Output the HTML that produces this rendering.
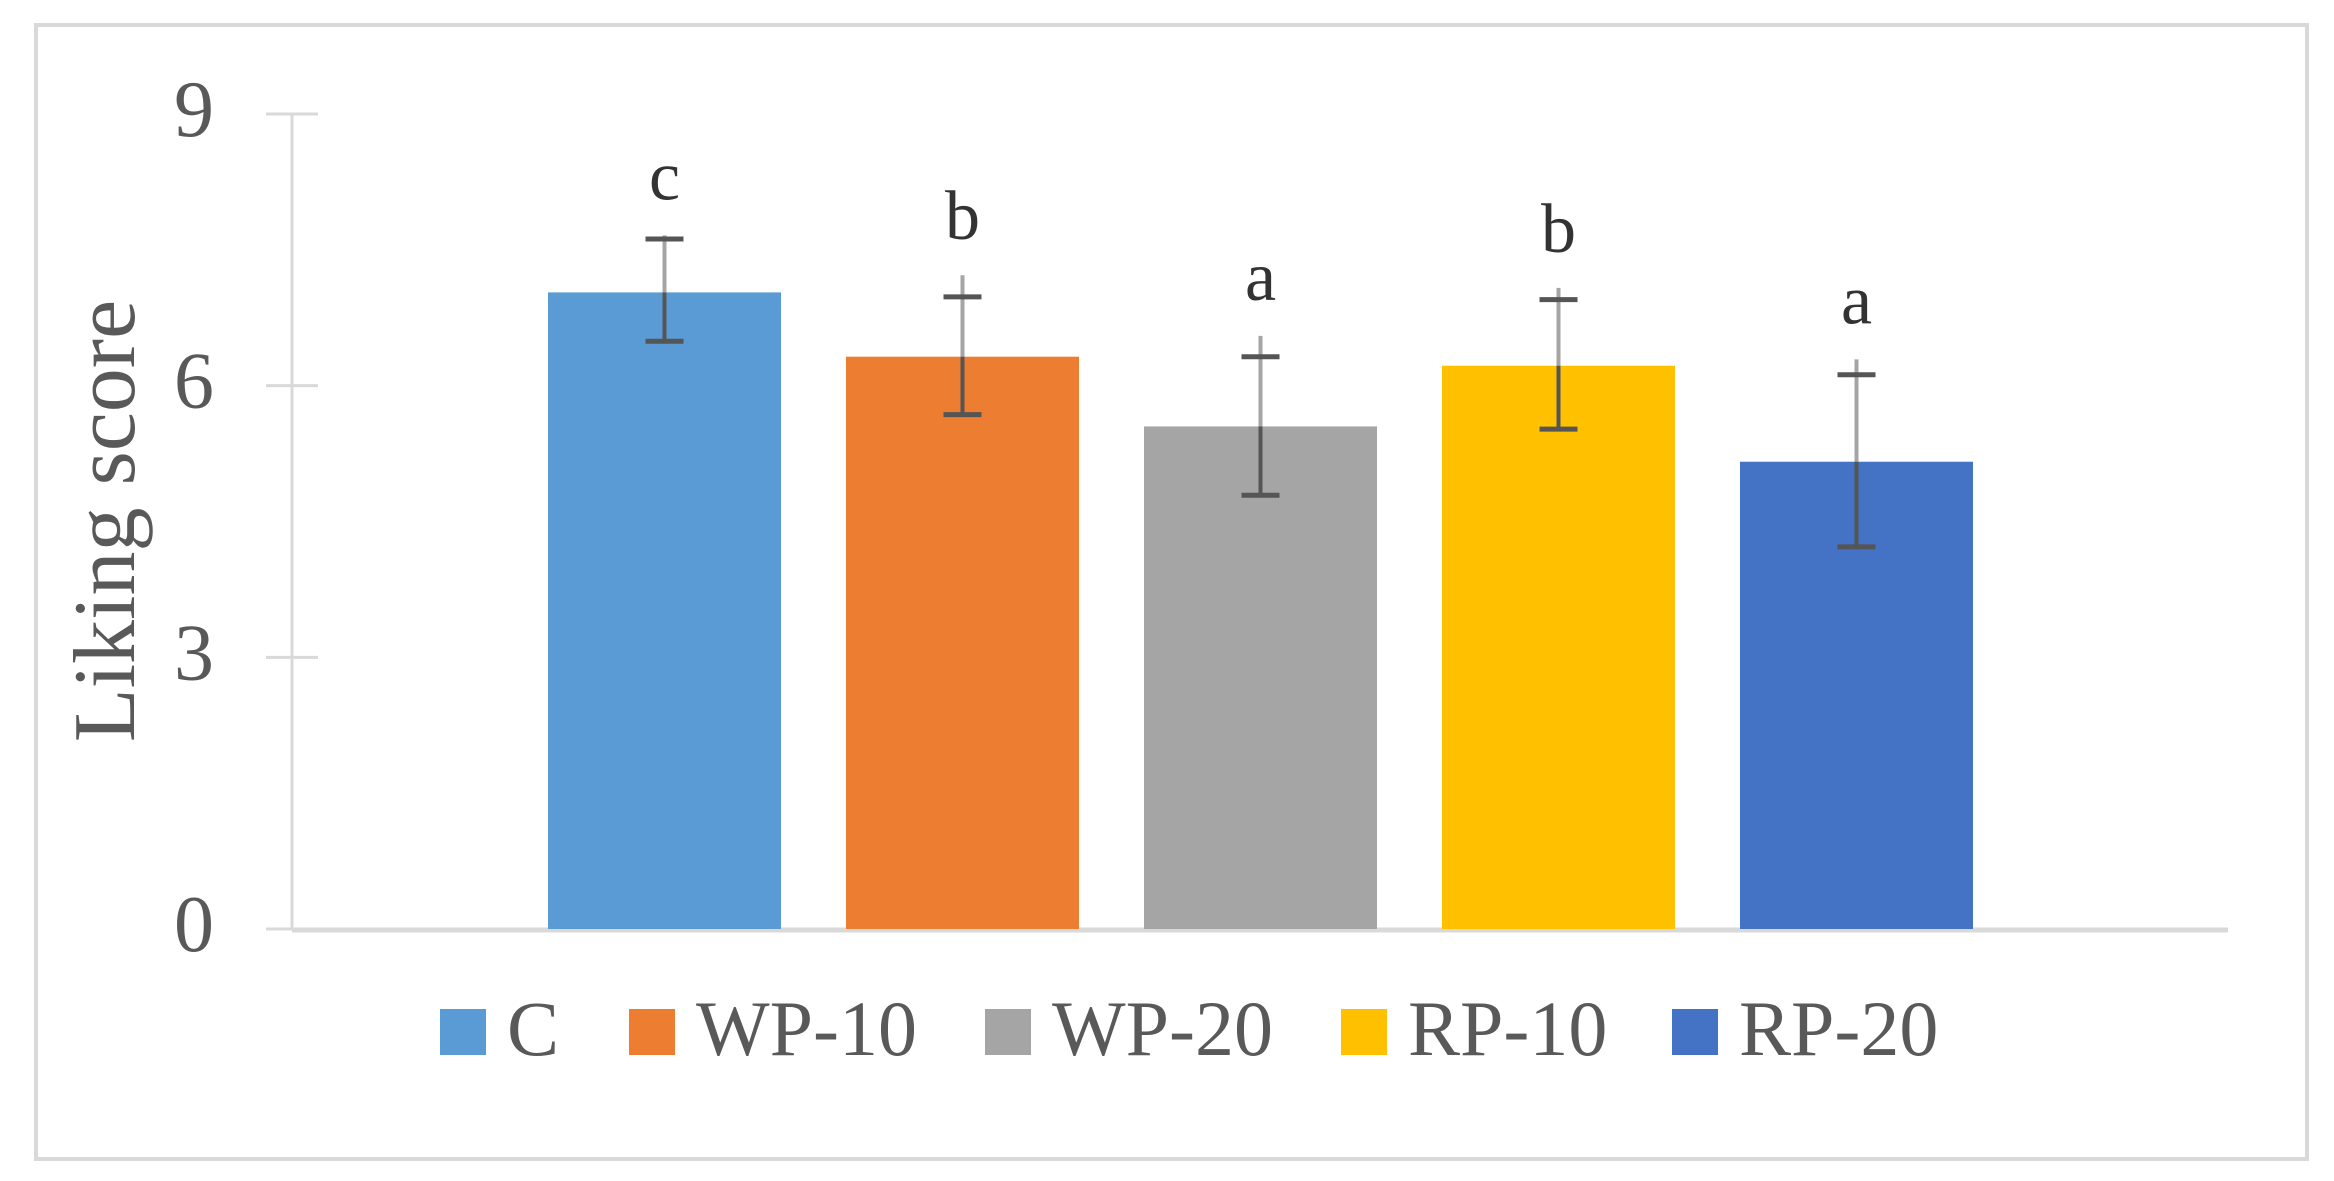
<!DOCTYPE html>
<html><head><meta charset="utf-8"><style>
html,body{margin:0;padding:0;background:#fff;}
svg text{font-family:"Liberation Serif",serif;fill:#595959;}
</style></head><body>
<svg id="chart" width="2334" height="1176" viewBox="0 0 2334 1176" xmlns="http://www.w3.org/2000/svg">
<rect x="36" y="25" width="2271" height="1134" fill="#fff" stroke="#d9d9d9" stroke-width="4"/>
<g id="axes"></g><g id="bars"></g><g id="legend"></g>
<text transform="translate(134,521) rotate(-90)" text-anchor="middle" font-size="88">Liking score</text>
</svg>
<script>
const categories=["C","WP-10","WP-20","RP-10","RP-20"];
const means=[7.03,6.32,5.55,6.22,5.16];
const errLow=[6.49,5.68,4.79,5.52,4.22];
const errHigh=[7.62,6.98,6.32,6.95,6.12];
const whiskerTop=[7.66,7.22,6.55,7.08,6.29];
const letters=["c","b","a","b","a"];
const colors=["#5b9bd5","#ed7d31","#a5a5a5","#ffc000","#4472c4"];
const yTicks=[0,3,6,9];
const NS="http://www.w3.org/2000/svg";
const y0=929,y9=114,yMax=9;
function y(v){return y0-(y0-y9)*v/yMax;}
function bx(i){return 548+298*i;}
const bw=233;
function mk(tag,attrs,parent){const e=document.createElementNS(NS,tag);for(const k in attrs)e.setAttribute(k,attrs[k]);parent.appendChild(e);return e;}
const axes=document.getElementById('axes'),bars=document.getElementById('bars'),leg=document.getElementById('legend');
let l=mk('line',{x1:292,y1:y(9),x2:292,y2:y(0),stroke:'#d9d9d9','stroke-width':3},axes);


yTicks.forEach(t=>{
  const tk=mk('line',{x1:266,y1:y(t),x2:318,y2:y(t),stroke:'#d9d9d9','stroke-width':3},axes);
  
  
  const tx=mk('text',{x:214,y:y(t)+22,'text-anchor':'end','font-size':80},axes);
  tx.textContent=t;
  
  
});
categories.forEach((c,i)=>{
  const r=mk('rect',{x:bx(i),y:y(means[i]),width:bw,height:y(0)-y(means[i]),fill:colors[i]},bars);
  
  
  const cx=bx(i)+bw/2;
  const w1=mk('line',{x1:cx,y1:y(whiskerTop[i]),x2:cx,y2:y(means[i]),stroke:'#a5a5a5','stroke-width':4},bars);
  
  
  const w2=mk('line',{x1:cx,y1:Math.max(y(means[i]),y(errHigh[i])),x2:cx,y2:y(errLow[i]),stroke:'#555','stroke-width':4},bars);
  
  
  [errHigh[i],errLow[i]].forEach((v,k)=>{
    const cp=mk('line',{x1:cx-19,y1:y(v),x2:cx+19,y2:y(v),stroke:'#555','stroke-width':5},bars);
    
    
  });
  const lt=mk('text',{x:cx,y:y(whiskerTop[i])-36,'text-anchor':'middle','font-size':70,style:'fill:#333'},bars);
  lt.textContent=letters[i];
  
  
});
l=mk('line',{x1:292,y1:y(0)+1,x2:2228,y2:y(0)+1,stroke:'#d9d9d9','stroke-width':5},axes);


const legX=[440,629,985,1341,1672];
categories.forEach((c,i)=>{
  const g=mk('g',{},leg);
  
  
  mk('rect',{x:legX[i],y:1009,width:46,height:46,fill:colors[i]},g);
  const t=mk('text',{x:legX[i]+67,y:1055,'font-size':78},g);
  t.textContent=c;
});
</script>
</body></html>
